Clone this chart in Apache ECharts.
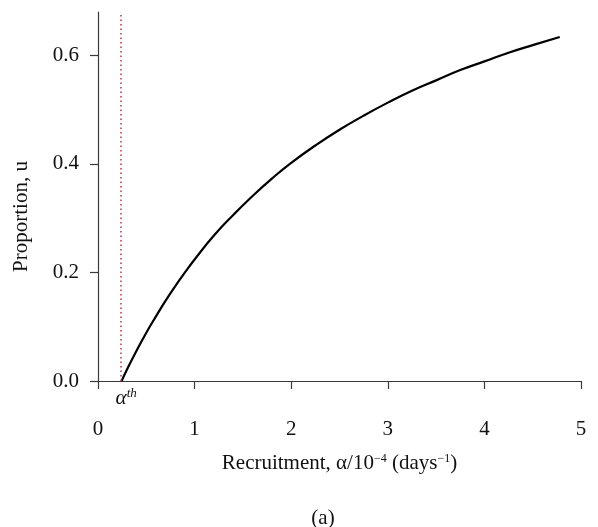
<!DOCTYPE html>
<html>
<head>
<meta charset="utf-8">
<script src="https://cdn.jsdelivr.net/npm/echarts@6/dist/echarts.min.js"></script>
<style>
  html, body { margin: 0; padding: 0; background: #fff; }
  #chart { width: 598px; height: 527px; }
</style>
</head>
<body>
<div id="chart"></div>
<script>
// Recruitment rate (units of 1e-4 per day) and the resulting proportion u
const alphaThreshold = 0.245;
const recruitment = [0.245, 0.3, 0.4, 0.5, 0.6, 0.7, 0.8, 0.9, 1.0, 1.2, 1.4, 1.6, 1.8, 2.0,
  2.25, 2.5, 2.75, 3.0, 3.25, 3.5, 3.75, 4.0, 4.25, 4.5, 4.78];
const proportion = [0, 0.021, 0.056, 0.089, 0.119, 0.148, 0.175, 0.200, 0.224, 0.268, 0.306,
  0.341, 0.373, 0.402, 0.434, 0.463, 0.489, 0.513, 0.535, 0.554, 0.573, 0.589, 0.605, 0.619, 0.634];
const xTicks = [0, 1, 2, 3, 4, 5];
const yTicks = [0, 0.2, 0.4, 0.6];

const FONT = "'Liberation Serif', 'DejaVu Serif', serif";
const AXIS_COLOR = '#3a3a3a';
const TEXT_COLOR = '#111';

const chart = echarts.init(document.getElementById('chart'));
chart.setOption({
  backgroundColor: '#fff',
  animation: false,
  grid: { left: 98, right: 17, top: 12, bottom: 146 },
  xAxis: {
    type: 'value',
    min: 0, max: 5, interval: 1,
    splitLine: { show: false },
    axisLine: { onZero: false, lineStyle: { color: AXIS_COLOR, width: 1.2 } },
    axisTick: { length: 8, lineStyle: { color: AXIS_COLOR, width: 1.2 }, customValues: xTicks },
    axisLabel: { margin: 38, fontFamily: FONT, fontSize: 21, color: TEXT_COLOR, customValues: xTicks },
    name: '{t|Recruitment, α/10}{s|−4}{t| (days}{s|−1}{t|)}',
    nameLocation: 'middle',
    nameGap: 72,
    nameTextStyle: {
      rich: {
        t: { fontFamily: FONT, fontSize: 21, color: TEXT_COLOR },
        s: { fontFamily: FONT, fontSize: 12, color: TEXT_COLOR, verticalAlign: 'top', padding: [0, 0, 8, 0] }
      }
    }
  },
  yAxis: {
    type: 'value',
    min: 0, max: 0.68,
    splitLine: { show: false },
    axisLine: { lineStyle: { color: AXIS_COLOR, width: 1.2 } },
    axisTick: { length: 8, lineStyle: { color: AXIS_COLOR, width: 1.2 }, customValues: yTicks },
    axisLabel: {
      margin: 19, fontFamily: FONT, fontSize: 21, color: TEXT_COLOR,
      customValues: yTicks,
      formatter: v => v.toFixed(1)
    },
    name: 'Proportion, u',
    nameLocation: 'middle',
    nameGap: 66,
    nameTextStyle: { fontFamily: FONT, fontSize: 21, color: TEXT_COLOR, padding: [0, 40, 0, 0] }
  },
  series: [{
    type: 'line',
    data: recruitment.map((a, i) => [a, proportion[i]]),
    smooth: true,
    showSymbol: false,
    lineStyle: { color: '#000', width: 2.2 },
    markLine: {
      silent: true,
      symbol: 'none',
      lineStyle: { color: '#c03048', type: [1.5, 3], width: 1.5 },
      label: {
        show: true,
        position: 'start',
        distance: 6,
        formatter: '{a|α}{s|th}',
        rich: {
          a: { fontFamily: FONT, fontStyle: 'italic', fontSize: 21, color: TEXT_COLOR, padding: [0, 0, 0, 10] },
          s: { fontFamily: FONT, fontStyle: 'italic', fontSize: 13, color: TEXT_COLOR, verticalAlign: 'top', padding: [0, 0, 10, 0] }
        }
      },
      data: [{ xAxis: alphaThreshold }]
    }
  }],
  graphic: [{
    type: 'text',
    x: 323, y: 518,
    style: { text: '(a)', font: "21px " + FONT, fill: TEXT_COLOR, textAlign: 'center', textVerticalAlign: 'middle' }
  }]
});
</script>
</body>
</html>
